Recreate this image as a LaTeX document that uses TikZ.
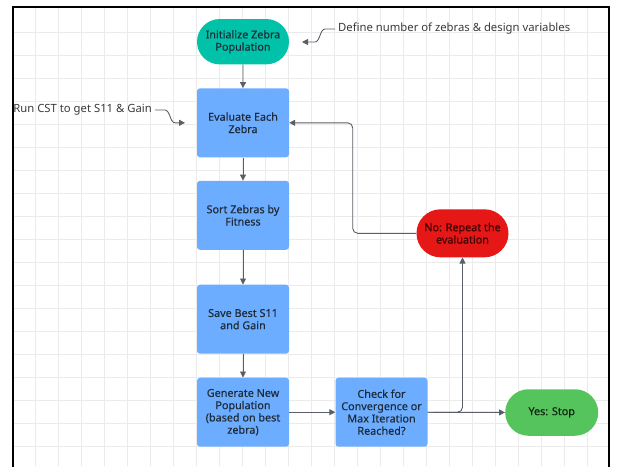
\documentclass[tikz,border=0pt]{standalone}
\usepackage{fontspec}
\setmainfont{Noto Sans}
\newfontfamily\boxfont[FakeBold=0.35]{Noto Sans}
\usetikzlibrary{arrows.meta,shapes.misc}
\definecolor{boxblue}{HTML}{6CADFF}
\definecolor{teal}{HTML}{00C2A8}
\definecolor{redfill}{HTML}{E51717}
\definecolor{greenfill}{HTML}{55C45C}
\definecolor{gridc}{HTML}{EBEBEB}
\definecolor{linec}{HTML}{5A5E66}
\definecolor{txtc}{HTML}{1F2B3A}
\definecolor{annc}{HTML}{3A3A3A}
\definecolor{redtxt}{HTML}{400404}
\definecolor{greentxt}{HTML}{102410}
\tikzset{
  gridline/.style={draw=gridc, line width=0.7pt},
  procbox/.style={rectangle, rounded corners=3pt, fill=boxblue, minimum width=92pt, minimum height=69pt, align=center, text=txtc, inner sep=0pt, font=\boxfont\fontsize{10.8}{12.3}\selectfont},
  termnode/.style={rounded rectangle, minimum width=92pt, align=center, inner sep=0pt, font=\boxfont\fontsize{10.8}{12.3}\selectfont},
  conn/.style={draw=linec, line width=0.9pt, -{Triangle[length=6pt,width=6pt]}},
  anntext/.style={text=annc, inner sep=0pt, font=\fontsize{11.3}{13}\selectfont}
}
\begin{document}
\begin{tikzpicture}[x=1pt,y=-1pt]
\useasboundingbox (0,0) rectangle (617,466);
\fill[white] (0,0) rectangle (617,466);
% grid
\foreach \i in {1,...,25} \draw[gridline] ({12+23*\i},7) -- ({12+23*\i},466);
\foreach \j in {1,...,19} \draw[gridline] (13,{9.7+23*\j}) -- (609,{9.7+23*\j});
% frame
\draw[line width=2pt, black] (13,470) -- (13,7) -- (609,7) -- (609,470);

% nodes
\node[termnode, fill=teal, text=txtc, minimum height=45.3pt] (init) at (243,41.7) {Initialize Zebra\\Population};
\node[procbox] (eval) at (243,122.8) {Evaluate Each\\Zebra};
\node[procbox] (sort) at (243,215.3) {Sort Zebras by\\Fitness};
\node[procbox] (save) at (243,319.2) {Save Best S11\\and Gain};
\node[procbox] (gen) at (243,412.2) {Generate New\\Population\\(based on best\\zebra)};
\node[procbox] (check) at (381.5,412.2) {Check for\\Convergence or\\Max Iteration\\Reached?};
\node[termnode, fill=redfill, text=redtxt, minimum height=48pt] (no) at (462.5,233.3) {No: Repeat the\\evaluation};
\node[termnode, fill=greenfill, text=greentxt, minimum width=93pt, minimum height=46.5pt] (yes) at (551.7,412.5) {Yes: Stop};

% annotations
\node[anntext, anchor=west] (defn) at (338,29) {Define number of zebras \& design variables};
\node[anntext, anchor=east] (runcst) at (152,110) {Run CST to get S11 \& Gain};
\coordinate (tipA) at (302,42);
\coordinate (tipB) at (185,122.8);

% connectors
\draw[conn] (init) -- (eval);
\draw[conn] (eval) -- (sort);
\draw[conn] (sort) -- (save);
\draw[conn] (save) -- (gen);
\draw[conn] (gen) -- (check);
\draw[conn] (check) -- (yes);
\draw[conn, rounded corners=5pt] (check.east) -- (no.south |- check.east) -- (no.south);
\coordinate (fbx) at (352.7,0);
\draw[conn, rounded corners=5pt] (no.west) -- (fbx |- no.west) -- (fbx |- eval.east) -- (eval.east);

\draw[conn] ([xshift=-3pt]defn.west) -- ++(-10,0) .. controls +(-5,0) and (320,42) .. (315,42) -- (tipA);
\draw[conn] ([xshift=3pt]runcst.east) -- ++(10,0) .. controls +(5,0) and (170,122.8) .. (175,122.8) -- (tipB);
\end{tikzpicture}
\end{document}
